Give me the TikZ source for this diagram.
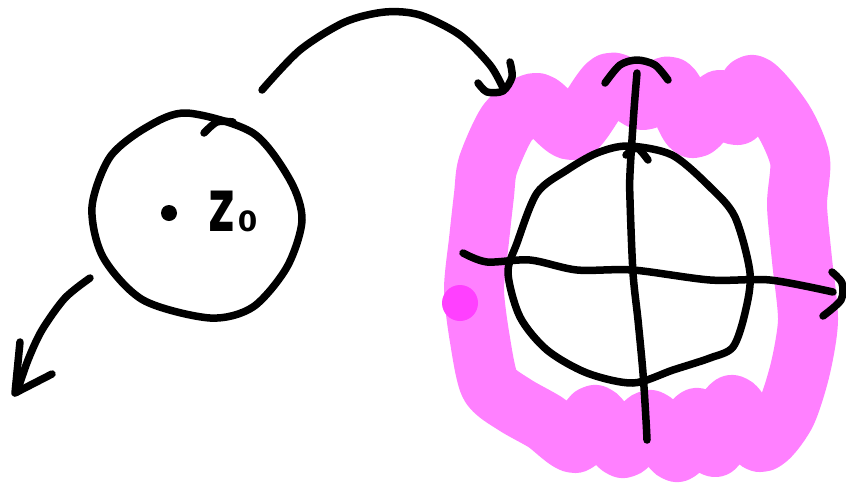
\documentclass[tikz,border=0pt]{standalone}
\usepackage{fontspec}
\newfontfamily\handfont{DejaVu Sans}
\usetikzlibrary{calc}
\definecolor{hlpink}{HTML}{FF80FF}
\definecolor{hldot}{HTML}{FF40FF}
\tikzset{
  ink/.style={line width=7.5pt, line cap=round, line join=round, black},
  marker/.style={line width=60pt, line cap=round, line join=round, hlpink},
  lbl/.style={font=\handfont, inner sep=0pt, anchor=base west}
}
\begin{document}
\begin{tikzpicture}[x=1pt,y=-1pt]
\useasboundingbox (0,0) rectangle (846,483);
% pink highlight band
\draw[marker] plot[smooth cycle, tension=0.45] coordinates {
 (488,165) (508,122) (537,103) (573,130) (610,83) (643,100) (670,87)
 (693,128) (720,100) (737,115) (752,85) (783,120) (800,160) (797,205)
 (802,260) (808,320) (800,370) (785,415) (760,442) (732,405) (715,447)
 (697,418) (677,452) (650,420) (623,448) (595,415) (575,443) (545,422)
 (515,405) (490,385) (480,340) (474,290) (479,240) (484,195)};
\fill[hldot] (460,303) circle (18);
% left disc
\draw[ink] plot[smooth cycle] coordinates {
 (187,113) (253,133) (290,180) (302,220) (287,267) (253,307) (210,318)
 (143,300) (103,257) (92,207) (110,157) (147,127)};
\draw[ink] plot[smooth] coordinates {(204,133) (217,122) (233,122)};
\fill (169,213) circle (8);
\node[lbl] (z0) at (208,231) {\scalebox{0.62}[1]{\fontsize{74}{74}\selectfont\bfseries z}\hspace{3pt}{\fontsize{28}{28}\selectfont\bfseries 0}};
% left arrow
\draw[ink] plot[smooth] coordinates {(90,278) (65,298) (42,330) (28,360) (17,392)};
\draw[ink] (20,342) -- (15,393) -- (52,374);
% top arrow
\draw[ink] plot[smooth] coordinates {(262,90) (300,50) (345,22) (385,12) (420,15) (460,35) (490,65) (503,88)};
\draw[ink] plot[smooth] coordinates {(510,62) (512,77) (503,91) (487,92) (478,83)};
% right disc
\draw[ink] plot[smooth cycle] coordinates {
 (628,146) (672,155) (710,187) (735,217) (750,273) (745,313) (733,347)
 (710,358) (673,370) (633,383) (587,373) (547,350) (520,317) (508,273)
 (517,243) (537,193) (567,170) (597,153)};
% axes
\draw[ink] plot[smooth] coordinates {(463,253) (487,262) (530,260) (577,270) (633,270) (710,280) (770,280) (833,292)};
\draw[ink] plot[smooth] coordinates {(832,272) (842,283) (841,300) (823,316)};
\draw[ink] plot[smooth] coordinates {(647,440) (646,420) (643,373) (638,320) (633,273) (630,200) (630,173) (634,110) (637,73)};
\draw[ink] plot[smooth] coordinates {(605,83) (620,65) (637,60) (655,65) (668,80)};
\draw[ink] plot[smooth] coordinates {(626,155) (637,148) (648,160)};
\end{tikzpicture}
\end{document}
